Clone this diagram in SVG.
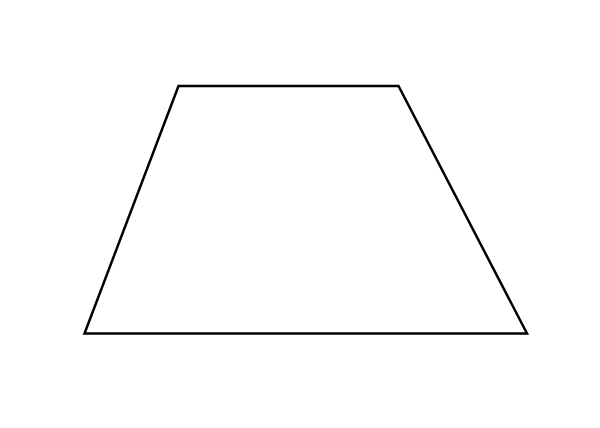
<svg xmlns="http://www.w3.org/2000/svg" width="600" height="428" viewBox="0 0 600 428">
<style>.shape{fill:none;stroke:#000;stroke-width:2.5;stroke-linejoin:miter}</style>
<rect width="600" height="428" fill="#fff"/>
<g id="trapezoid">
<polygon class="shape" points="178.5,86 398.5,86 527,333.5 84.5,333.5"/>
</g>
</svg>
